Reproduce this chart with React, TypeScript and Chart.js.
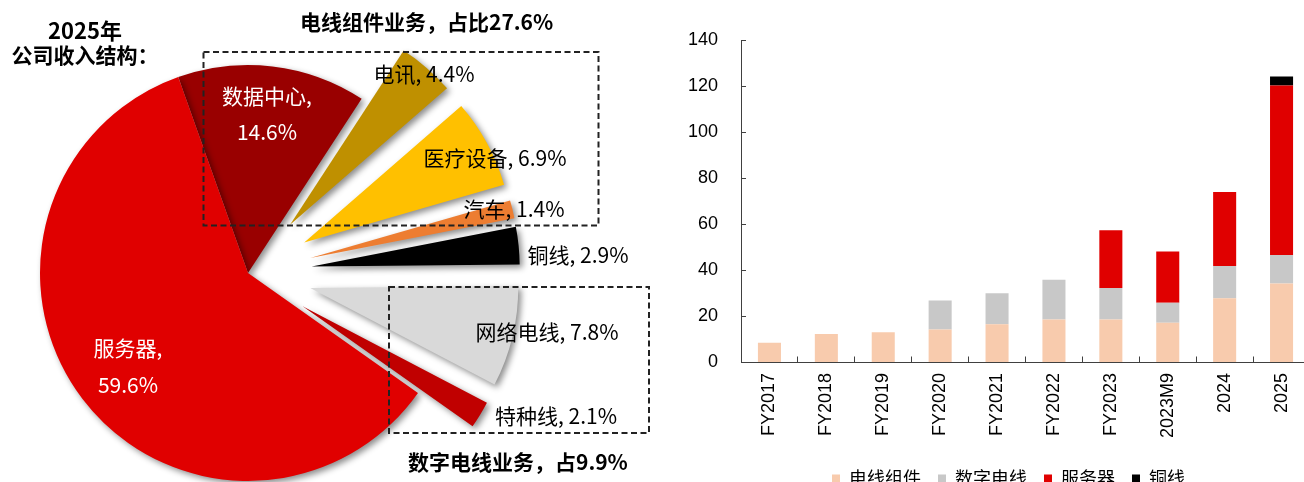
import React, { useEffect, useRef } from 'react';
import { Chart, registerables } from 'chart.js';

Chart.register(...registerables);

// ---------- Pie data ----------
const pieNames = ['数据中心', '电讯', '医疗设备', '汽车', '铜线', '网络电线', '特种线', '服务器'];
const pieValues = [14.6, 4.4, 6.9, 1.4, 2.9, 7.8, 2.1, 59.6];
const pieColors = ['#990000', '#BF9000', '#FFC000', '#ED7D31', '#000000', '#D9D9D9', '#C00000', '#E00000'];

// ---------- Bar data ----------
const barCategories = ['FY2017', 'FY2018', 'FY2019', 'FY2020', 'FY2021', 'FY2022', 'FY2023', '2023M9', '2024', '2025'];
const wireHarness = [8.6, 12.4, 13.1, 14.4, 16.6, 18.7, 18.7, 17.3, 27.9, 34.3];
const digitalCable = [null, null, null, 12.6, 13.5, 17.3, 13.7, 8.7, 14.1, 12.4];
const serverRev = [null, null, null, null, null, null, 25.1, 22.3, 32.1, 73.7];
const copperWire = [null, null, null, null, null, null, null, null, null, 3.9];
const barSeriesNames = ['电线组件', '数字电线', '服务器', '铜线'];
const barColors = ['#F8CBAD', '#C8C8C8', '#E00000', '#000000'];
const yMin = 0;
const yMax = 140;
const yStep = 20;

// ---------- Styles (not data) ----------
const CJK = '"Noto Sans CJK SC", "Noto Sans", sans-serif';
const LAT = '"Liberation Sans", Arial, "Noto Sans CJK SC", sans-serif';
const AXIS = '#404040';
const pieExplode = [0, 64, 64, 64, 64, 64, 64, 0];
const pieRotation = -19.6;
const pieRadius = 208;
// label placement relative to the pie centre
const pieLabelStyle = [
  { dx: 19, dy: -177, dy2: -140.5, color: '#ffffff' },
  { dx: 176, dy: -199, color: '#000000' },
  { dx: 247, dy: -115, color: '#000000' },
  { dx: 266, dy: -64, color: '#000000' },
  { dx: 330, dy: -18, color: '#000000' },
  { dx: 299, dy: 59, color: '#000000' },
  { dx: 308, dy: 143, color: '#000000' },
  { dx: -120, dy: 75, dy2: 112, color: '#ffffff' },
];

const explodePlugin = {
  id: 'explodePie',
  afterDatasetsUpdate(chart: any) {
    const meta = chart.getDatasetMeta(0);
    meta.data.forEach((arc: any, i: number) => {
      const d = pieExplode[i] || 0;
      if (!d) return;
      const mid = (arc.startAngle + arc.endAngle) / 2;
      arc.x += Math.cos(mid) * d;
      arc.y += Math.sin(mid) * d;
    });
  },
  beforeDatasetsDraw(chart: any) {
    const ctx = chart.ctx;
    ctx.save();
    ctx.shadowColor = 'rgba(0,0,0,0.45)';
    ctx.shadowBlur = 6;
    ctx.shadowOffsetX = 3;
    ctx.shadowOffsetY = 3;
  },
  afterDatasetsDraw(chart: any) {
    const ctx = chart.ctx;
    ctx.restore();
    const ca = chart.chartArea;
    const cx = (ca.left + ca.right) / 2;
    const cy = (ca.top + ca.bottom) / 2;
    ctx.save();
    ctx.font = `21px ${CJK}`;
    ctx.textAlign = 'center';
    ctx.textBaseline = 'middle';
    pieNames.forEach((name, i) => {
      const s: any = pieLabelStyle[i];
      ctx.fillStyle = s.color;
      if (s.dy2 !== undefined) {
        ctx.fillText(`${name},`, cx + s.dx, cy + s.dy);
        ctx.fillText(`${pieValues[i]}%`, cx + s.dx, cy + s.dy2);
      } else {
        ctx.fillText(`${name}, ${pieValues[i]}%`, cx + s.dx, cy + s.dy);
      }
    });
    ctx.restore();
  },
};

const legendShiftPlugin = {
  id: 'legendShift',
  afterLayout(chart: any) {
    const lg = chart.legend;
    if (lg) {
      lg.left += 23.5;
      lg.right += 23.5;
      lg.top += 2.5;
      lg.bottom += 2.5;
    }
  },
};

export default function App() {
  const pieRef = useRef<HTMLCanvasElement>(null);
  const barRef = useRef<HTMLCanvasElement>(null);

  useEffect(() => {
    const pie = new Chart(pieRef.current as HTMLCanvasElement, {
      type: 'pie',
      data: {
        labels: pieNames,
        datasets: [
          {
            data: pieValues,
            backgroundColor: pieColors,
            borderWidth: 0,
            clip: false,
          } as any,
        ],
      },
      options: {
        responsive: false,
        animation: false,
        events: [],
        rotation: pieRotation,
        radius: pieRadius,
        layout: { padding: { left: 0, top: 0, bottom: 0, right: 164 } },
        plugins: { legend: { display: false }, tooltip: { enabled: false } },
      } as any,
      plugins: [explodePlugin],
    });

    const series = [wireHarness, digitalCable, serverRev, copperWire];
    const bar = new Chart(barRef.current as HTMLCanvasElement, {
      type: 'bar',
      data: {
        labels: barCategories,
        datasets: series.map((d, i) => ({
          label: barSeriesNames[i],
          data: d as any,
          backgroundColor: barColors[i],
          borderWidth: 0,
          barPercentage: 0.405,
          categoryPercentage: 1,
        })),
      },
      options: {
        responsive: false,
        animation: false,
        events: [],
        layout: { padding: { top: 40.5, left: 0, right: 0, bottom: 0 } },
        plugins: {
          tooltip: { enabled: false },
          legend: {
            position: 'bottom',
            labels: {
              boxWidth: 8,
              boxHeight: 8,
              padding: 17,
              color: '#000',
              font: { size: 18, family: CJK },
            },
          },
        },
        scales: {
          x: {
            stacked: true,
            grid: { drawOnChartArea: false, drawTicks: true, tickLength: -6, color: AXIS, offset: true },
            border: { color: AXIS, width: 1 },
            ticks: {
              color: '#000',
              font: { size: 18, family: LAT },
              minRotation: 90,
              maxRotation: 90,
              padding: 16.5,
              autoSkip: false,
            },
            afterFit(s: any) {
              s.height = 87.5;
              s.paddingLeft = 0;
              s.paddingRight = 0;
            },
          },
          y: {
            stacked: true,
            min: yMin,
            max: yMax,
            ticks: { stepSize: yStep, color: '#000', font: { size: 18, family: LAT }, padding: 28 },
            grid: { drawOnChartArea: false, drawTicks: true, tickLength: -5, color: AXIS },
            border: { color: AXIS, width: 1 },
            afterFit(s: any) {
              s.width = 81;
              s.paddingTop = 0;
              s.paddingBottom = 0;
            },
          },
        },
      } as any,
      plugins: [legendShiftPlugin],
    });

    return () => {
      pie.destroy();
      bar.destroy();
    };
  }, []);

  const boldText: React.CSSProperties = {
    position: 'absolute',
    fontFamily: CJK,
    fontWeight: 700,
    fontSize: 21,
    color: '#000',
    whiteSpace: 'nowrap',
  };

  return (
    <div
      style={{
        position: 'absolute',
        left: 0,
        top: 0,
        width: 1304,
        height: 482,
        overflow: 'hidden',
        background: '#fff',
      }}
    >
      <canvas
        ref={pieRef}
        width={660}
        height={546}
        style={{ position: 'absolute', left: 0, top: 0, width: 660, height: 546 }}
      />
      <canvas
        ref={barRef}
        width={650}
        height={495}
        style={{ position: 'absolute', left: 660, top: 0, width: 650, height: 495 }}
      />
      <svg width={1304} height={482} style={{ position: 'absolute', left: 0, top: 0 }}>
        <rect x={203.5} y={52} width={395} height={173.5} fill="none" stroke="#222" strokeWidth={2} strokeDasharray="6 3.5" />
        <rect x={389} y={287} width={260} height={146} fill="none" stroke="#222" strokeWidth={2} strokeDasharray="6 3.5" />
      </svg>
      <div style={{ ...boldText, left: 6, top: 17, width: 158, textAlign: 'center', lineHeight: '24px' }}>
        <span style={{ fontSize: 22 }}>2025年</span>
        <br />
        公司收入结构：
      </div>
      <div style={{ ...boldText, left: 300, top: 8, lineHeight: '26px' }}>电线组件业务，占比27.6%</div>
      <div style={{ ...boldText, left: 408, top: 448, lineHeight: '26px' }}>数字电线业务，占9.9%</div>
    </div>
  );
}
